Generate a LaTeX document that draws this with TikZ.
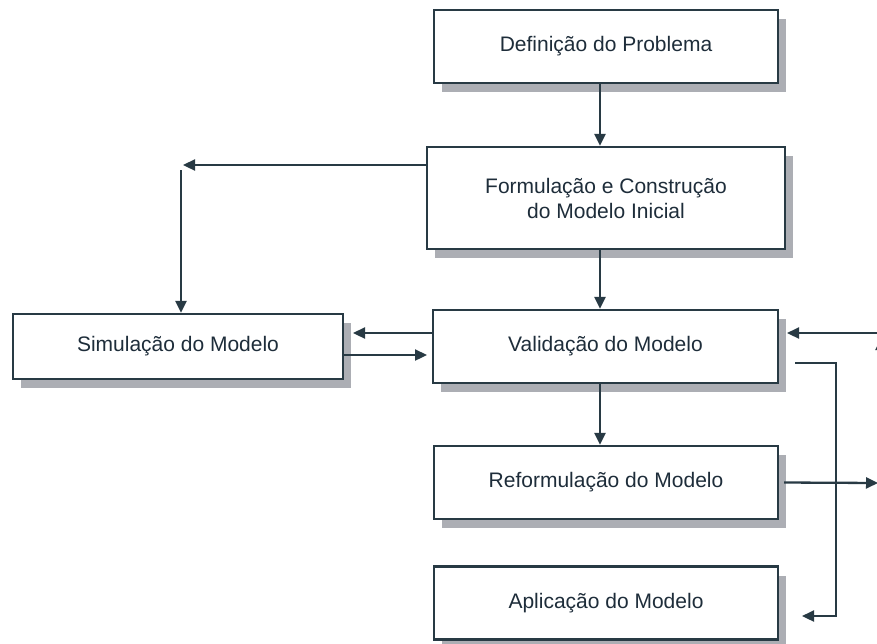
\documentclass[tikz,border=0pt]{standalone}
\usepackage{fontspec}
\setmainfont{Liberation Sans}
\usetikzlibrary{arrows.meta,shadows}
\definecolor{edge}{RGB}{40,58,68}
\definecolor{txt}{RGB}{30,45,58}
\definecolor{shad}{RGB}{172,174,180}
\begin{document}
\begin{tikzpicture}[x=1pt,y=-1pt,
  box/.style={draw=edge,line width=2.3pt,fill=white,inner sep=0pt,
    font=\fontsize{21}{25}\selectfont,text=txt,align=center,
    general shadow={fill=shad,shadow xshift=8pt,shadow yshift=-9pt}},
  conn/.style={draw=edge,line width=2.3pt,-{Triangle[length=12pt,width=11pt]}}]
\useasboundingbox[fill=white] (0,0) rectangle (877,643);
\node[box,minimum width=344pt,minimum height=73pt] (def) at (606,46.5) {Definição do Problema};
\node[box,minimum width=358pt,minimum height=102pt] (form) at (606,198) {Formulação e Construção\\do Modelo Inicial};
\node[box,minimum width=345pt,minimum height=73pt] (val) at (605.5,346.5) {Validação do Modelo};
\node[box,minimum width=330pt,minimum height=65pt] (sim) at (178,346.5) {Simulação do Modelo};
\node[box,minimum width=344pt,minimum height=73pt] (ref) at (606,482.5) {Reformulação do Modelo};
\node[box,minimum width=344pt,minimum height=73pt] (apl) at (606,603) {Aplicação do Modelo};
\coordinate (ax) at (600,0);
\coordinate (lt) at (183,165);
\coordinate (lv) at (181,170);
\coordinate (s1) at (353,333);
\coordinate (s2) at (427,355);
\coordinate (rin) at (880,333);
\coordinate (rinend) at (787,333);
\coordinate (vo1) at (795,363);
\coordinate (vo2) at (836,363);
\coordinate (vo3) at (836,616);
\coordinate (vo4) at (802,616);
\coordinate (rout) at (878,483);
\coordinate (edgeup1) at (881,370);
\coordinate (edgeup2) at (881,338);
\draw[conn] (def.south -| ax) -- (form.north -| ax);
\draw[conn] (form.south -| ax) -- (val.north -| ax);
\draw[conn] (val.south -| ax) -- (ref.north -| ax);
\draw[conn] (form.west |- lt) -- (lt);
\draw[conn] (lv) -- (sim.north -| lv);
\draw[conn] (val.west |- s1) -- (s1);
\draw[conn] (sim.east |- s2) -- (s2);
\draw[conn] (rin) -- (rinend);
\draw[conn] (vo1) -- (vo2) -- (vo3) -- (vo4);
\draw[conn] (ref.east) ++(5pt,0) -- (rout);
\draw[conn] (edgeup1) -- (edgeup2);
\end{tikzpicture}
\end{document}
